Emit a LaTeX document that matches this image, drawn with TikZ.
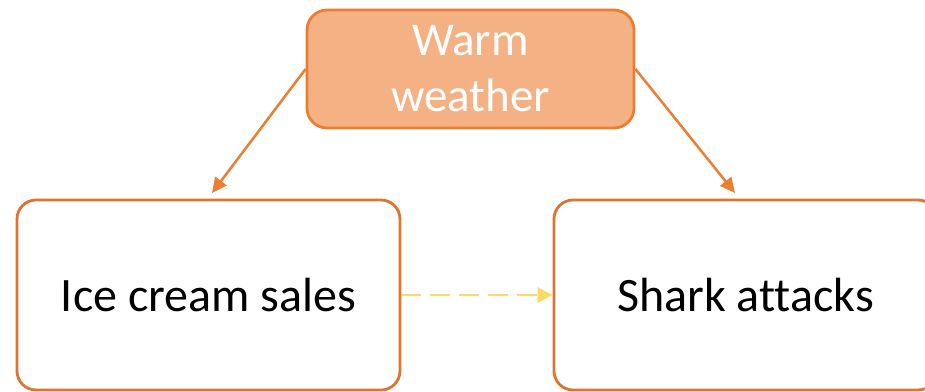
\documentclass[tikz,border=0pt]{standalone}
\usepackage{fontspec}
\setmainfont[Ligatures={NoCommon}]{Carlito}
\usetikzlibrary{arrows.meta}
\definecolor{orangeB}{HTML}{ED7D31}
\definecolor{orangeF}{HTML}{F4B183}
\definecolor{boxB}{HTML}{DE742F}
\definecolor{yel}{HTML}{FFD966}
\begin{document}
\begin{tikzpicture}[x=1pt,y=-1pt,
  causebox/.style={draw=orangeB, fill=orangeF, line width=2.8pt, rounded corners=20pt,
    minimum width=327pt, minimum height=118pt, inner sep=0pt, text=white, align=center,
    font=\fontsize{47pt}{56pt}\selectfont},
  effbox/.style={draw=boxB, fill=white, line width=2.8pt, rounded corners=19pt,
    minimum width=383pt, minimum height=190pt, inner sep=0pt,
    font=\fontsize{48pt}{56pt}\selectfont},
  causearrow/.style={draw=orangeB, line width=2.5pt, -{Triangle[length=15pt,width=14pt]}},
  corrarrow/.style={draw=yel, line width=2.6pt, dash pattern=on 20pt off 9pt, -{Triangle[length=15pt,width=15pt]}}
]
\useasboundingbox (0,0) rectangle (925,391);
\clip (0,0) rectangle (925,391);
\node[causebox] (warm) at (470.5,69) {\raisebox{-2pt}{Warm}\\\raisebox{-2pt}{weather}};
\node[effbox] (ice) at (208.5,295) {Ice cream sales};
\node[effbox] (shark) at (745.5,295) {Shark attacks};
\coordinate (l) at (212,193);
\coordinate (r) at (735,193);
\draw[causearrow] (warm.west) -- (l);
\draw[causearrow] (warm.east) -- (r);
\draw[corrarrow] (ice.east) -- (shark.west);
\end{tikzpicture}
\end{document}
